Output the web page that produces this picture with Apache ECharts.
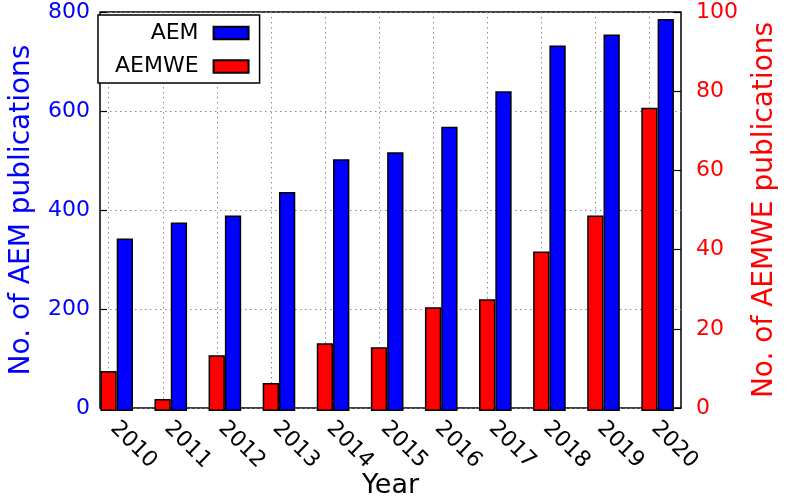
<!DOCTYPE html>
<html>
<head>
<meta charset="utf-8">
<script src="https://cdn.jsdelivr.net/npm/echarts@6/dist/echarts.min.js"></script>
<style>html,body{margin:0;padding:0;background:#fff}#c{width:788px;height:504px}</style>
</head>
<body>
<div id="c"></div>
<script>
const years = ['2010','2011','2012','2013','2014','2015','2016','2017','2018','2019','2020'];
const aem = [346, 378, 392, 439, 505, 519, 570, 641, 733, 755, 786];
const aemwe = [10, 3, 14, 7, 17, 16, 26, 28, 40, 49, 76];
const leftMax = 800, leftStep = 200;
const rightMax = 100, rightStep = 20;

const FONT = 'DejaVu Sans';
const chart = echarts.init(document.getElementById('c'), null, {renderer: 'canvas'});
const dotted = {show: true, lineStyle: {color: '#8a8a8a', type: [1.5, 3.5], width: 1}};

chart.setOption({
  animation: false,
  textStyle: {fontFamily: FONT},
  grid: [
    {left: 89.65, right: 103.35, top: 12, bottom: 93},
    {left: 93, right: 107, top: 12, bottom: 93, show: true, borderColor: '#000', borderWidth: 1.5, backgroundColor: 'transparent'},
    {left: 108.7, right: 138.3, top: 12, bottom: 93},
    {left: 113.7, right: 133.3, top: 12, bottom: 93}
  ],
  legend: {
    data: ['AEM', 'AEMWE'],
    orient: 'vertical',
    left: 98, top: 15,
    align: 'right',
    icon: 'rect',
    itemWidth: 35, itemHeight: 12.5,
    itemGap: 11.5,
    padding: [7, 10, 5.5, 17],
    borderColor: '#000', borderWidth: 1.5, borderRadius: 0,
    backgroundColor: '#fff',
    selectedMode: false,
    textStyle: {fontFamily: FONT, fontSize: 22, color: '#000', padding: [0, 10, 0, 0]}
  },
  xAxis: [
    {gridIndex: 0, type: 'category', data: years, show: false},
    {gridIndex: 1, type: 'value', min: 0, max: 1,
      axisLine: {show: false}, axisTick: {show: false}, axisLabel: {show: false}, splitLine: {show: false},
      name: 'Year', nameLocation: 'middle', nameGap: 64,
      nameTextStyle: {fontFamily: FONT, fontSize: 27, color: '#000'}},
    {gridIndex: 2, type: 'category', data: years, boundaryGap: false,
      axisLine: {show: false}, axisLabel: {show: false},
      axisTick: {show: true, inside: true, length: 6, lineStyle: {color: '#000', width: 1.2}},
      splitLine: dotted},
    {gridIndex: 3, type: 'category', data: years, boundaryGap: false,
      axisLine: {show: false}, axisTick: {show: false}, splitLine: {show: false},
      axisLabel: {show: true, rotate: -45, margin: 14, interval: 0, fontFamily: FONT, fontSize: 22, color: '#000'}}
  ],
  yAxis: [
    {gridIndex: 0, type: 'value', min: 0, max: leftMax, interval: leftStep, show: false},
    {gridIndex: 0, type: 'value', min: 0, max: rightMax, interval: rightStep, show: false, position: 'right'},
    {gridIndex: 1, type: 'value', min: 0, max: leftMax, interval: leftStep, position: 'left',
      axisLine: {show: false},
      axisTick: {show: true, inside: true, length: 7, lineStyle: {color: '#000', width: 1.2}},
      axisLabel: {margin: 10, fontFamily: FONT, fontSize: 22, color: '#0000ff'},
      splitLine: dotted,
      name: 'No. of AEM publications', nameLocation: 'middle', nameRotate: 90, nameGap: 64,
      nameTextStyle: {fontFamily: FONT, fontSize: 28, color: '#0000ff'}},
    {gridIndex: 1, type: 'value', min: 0, max: rightMax, interval: rightStep, position: 'right',
      axisLine: {show: false},
      axisTick: {show: true, inside: true, length: 7, lineStyle: {color: '#000', width: 1.2}},
      axisLabel: {margin: 15, fontFamily: FONT, fontSize: 22, color: '#ff0000'},
      splitLine: {show: false},
      name: 'No. of AEMWE publications', nameLocation: 'middle', nameRotate: 90, nameGap: 70,
      nameTextStyle: {fontFamily: FONT, fontSize: 28, color: '#ff0000'}},
    {gridIndex: 2, type: 'value', min: 0, max: 1, show: false},
    {gridIndex: 3, type: 'value', min: 0, max: 1, show: false}
  ],
  series: [
    {name: 'AEMWE', type: 'bar', xAxisIndex: 0, yAxisIndex: 1, data: aemwe,
      barWidth: 16.3, barGap: '0%',
      itemStyle: {color: '#ff0000', borderColor: '#000', borderWidth: 1.5}},
    {name: 'AEM', type: 'bar', xAxisIndex: 0, yAxisIndex: 0, data: aem,
      barWidth: 16.3, barGap: '0%',
      itemStyle: {color: '#0000ff', borderColor: '#000', borderWidth: 1.5}}
  ]
});
</script>
</body>
</html>
